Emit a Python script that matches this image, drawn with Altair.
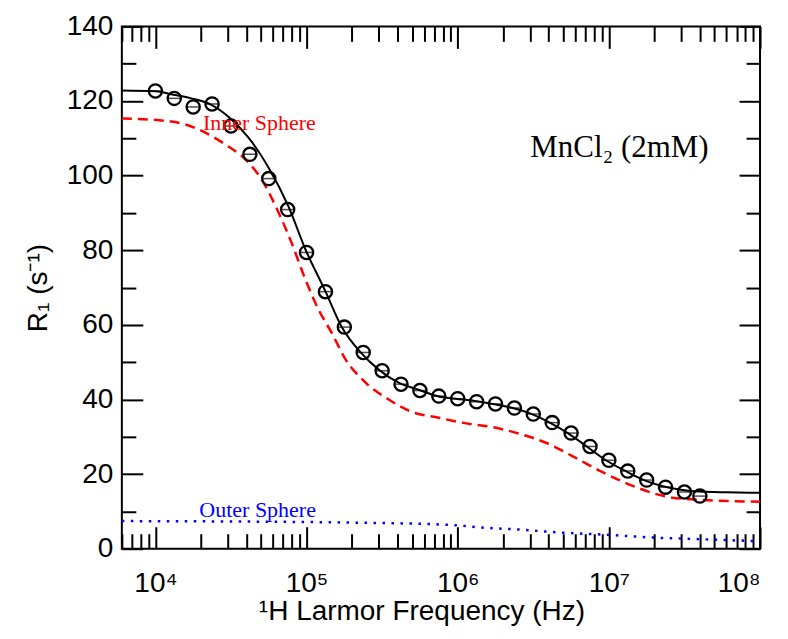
import altair as alt
import pandas as pd

# ---- measured data ----
freq_pts = [1.0e4, 1.3335e4, 1.7783e4, 2.3714e4, 3.1623e4, 4.2170e4, 5.6234e4, 7.4989e4,
            1.0e5, 1.3335e5, 1.7783e5, 2.3714e5, 3.1623e5, 4.2170e5, 5.6234e5, 7.4989e5,
            1.0e6, 1.3335e6, 1.7783e6, 2.3714e6, 3.1623e6, 4.2170e6, 5.6234e6, 7.4989e6,
            1.0e7, 1.3335e7, 1.7783e7, 2.3714e7, 3.1623e7, 4.0e7]
r1_pts = [122.7, 120.7, 118.4, 119.2, 113.3, 105.7, 99.2, 90.9,
          79.4, 68.9, 59.4, 52.6, 47.7, 44.1, 42.4, 40.9,
          40.2, 39.4, 38.8, 37.7, 36.1, 33.8, 31.0, 27.4,
          23.7, 20.8, 18.4, 16.5, 15.2, 14.1]

fit_freq = [6000, 1.0e4, 1.315e4, 1.73e4, 2.31e4, 3.04e4, 4.13e4, 5.6e4, 7.6e4, 9.84e4,
            1.336e5, 1.706e5, 2.28e5, 3.0e5, 4.066e5, 5.518e5, 7.485e5, 9.7e5, 1.297e6,
            1.707e6, 2.28e6, 3.04e6, 4.06e6, 5.35e6, 7.14e6, 9.55e6, 1.276e7, 1.706e7,
            2.245e7, 3.0e7, 3.95e7, 6.0e7, 1.0e8]
fit_r1 = [122.8, 122.6, 121.7, 120.7, 119.1, 115.8, 110.2, 102.2, 91.7, 80.2,
          68.9, 59.5, 52.6, 48.0, 44.5, 42.6, 40.8, 40.2, 39.6,
          38.8, 37.8, 36.2, 33.8, 31.0, 27.4, 23.7, 20.9, 18.4,
          16.8, 15.8, 15.3, 15.1, 15.0]

inner_freq = [6000, 9408, 1.58e4, 2.143e4, 2.91e4, 3.945e4, 5.037e4, 6.53e4, 7.96e4, 9.84e4,
              1.2e5, 1.465e5, 1.814e5, 2.46e5, 3.493e5, 4.955e5, 7.485e5, 1.062e6, 1.786e6,
              2.656e6, 3.828e6, 5.69e6, 8.59e6, 1.297e7, 2.38e7, 3.95e7, 1.0e8]
inner_r1 = [115.3, 115.0, 113.7, 111.5, 108.3, 104.3, 99.0, 90.1, 82.0, 72.1,
            64.1, 57.9, 50.7, 44.5, 40.0, 36.7, 35.1, 33.8, 32.4,
            30.6, 28.4, 24.9, 21.0, 17.6, 14.0, 13.1, 12.6]

outer_freq = [6000, 3.0e4, 2.0e5, 8.71e5, 1.53e6, 2.656e6, 4.46e6, 9.55e6, 1.93e7, 4.39e7, 1.0e8]
outer_r1 = [7.4, 7.3, 7.0, 6.4, 5.6, 5.1, 4.4, 3.75, 3.0, 2.5, 2.0]

x_major = [1e4, 1e5, 1e6, 1e7, 1e8]
x_minor = [m * d for d in [1e3, 1e4, 1e5, 1e6, 1e7] for m in range(2, 10) if m * d > 5999]
y_major = [0, 20, 40, 60, 80, 100, 120, 140]
y_minor = [10, 30, 50, 70, 90, 110, 130]

labels = [
    {"text": "Inner Sphere", "f": 2.065e4, "r": 112.2, "color": "#ff0000", "size": 22},
    {"text": "Outer Sphere", "f": 1.954e4, "r": 8.6, "color": "#0000ff", "size": 22},
    {"text": "MnCl\u2082 (2mM)", "f": 3.02e6, "r": 104.9, "color": "#000000", "size": 31},
]

# ---- frames ----
df_pts = pd.DataFrame({"f": freq_pts, "r": r1_pts})
df_fit = pd.DataFrame({"f": fit_freq, "r": fit_r1})
df_in = pd.DataFrame({"f": inner_freq, "r": inner_r1})
df_out = pd.DataFrame({"f": outer_freq, "r": outer_r1})

xs = alt.Scale(type="log", domain=[6000, 1e8], nice=False)
ys = alt.Scale(domain=[0, 140], nice=False, zero=False)

FONT = "Liberation Sans"


def ax(orient, values, size, labels=False, **kw):
    return alt.Axis(orient=orient, values=values, tickSize=size, offset=-size,
                    labels=labels, domain=False, grid=False, ticks=True,
                    tickColor="black", tickWidth=2, **kw)


sup = "datum.value == 10000 ? '10\u2074' : datum.value == 100000 ? '10\u2075' : datum.value == 1000000 ? '10\u2076' : datum.value == 10000000 ? '10\u2077' : '10\u2078'"

fit = alt.Chart(df_fit).mark_line(color="black", strokeWidth=2, interpolate="monotone", clip=True).encode(
    x=alt.X("f:Q", scale=xs, axis=ax("bottom", x_major, 22, labels=True, labelExpr=sup,
                                     labelPadding=21, labelFont=FONT, labelFontSize=28,
                                     labelColor="black", title="\u00b9H Larmor Frequency (Hz)",
                                     titleFont=FONT, titleFontSize=28, titleFontWeight="normal",
                                     titleColor="black", titlePadding=0, titleX=300,
                                     titleAlign="center")),
    y=alt.Y("r:Q", scale=ys, axis=ax("left", y_major, 21, labels=True, labelPadding=9,
                                     labelFont=FONT, labelFontSize=28, labelColor="black",
                                     title="R\u2081 (s\u207b\u00b9)", titleFont=FONT,
                                     titleFontSize=28, titleFontWeight="normal",
                                     titleColor="black", titlePadding=14)),
)

inner = alt.Chart(df_in).mark_line(color="#ff0000", strokeWidth=2.5, strokeDash=[10, 6],
                                   interpolate="monotone", clip=True).encode(
    x=alt.X("f:Q", scale=xs, axis=ax("top", x_major, 22, title=None)),
    y=alt.Y("r:Q", scale=ys, axis=ax("right", y_major, 21, title=None)),
)

outer = alt.Chart(df_out).mark_line(color="#0000ff", strokeWidth=2.5, strokeDash=[2.5, 6.5],
                                    interpolate="monotone", clip=True).encode(
    x=alt.X("f:Q", scale=xs, axis=ax("bottom", x_minor, 15, title=None)),
    y=alt.Y("r:Q", scale=ys, axis=ax("left", y_minor, 14, title=None)),
)

pts = alt.Chart(df_pts).mark_point(shape="circle", filled=False, size=175, strokeWidth=2.3,
                                   color="black", opacity=1).encode(
    x=alt.X("f:Q", scale=xs, axis=ax("top", x_minor, 15, title=None)),
    y=alt.Y("r:Q", scale=ys, axis=ax("right", y_minor, 14, title=None)),
)

errs = alt.Chart(df_pts).mark_tick(orient="horizontal", size=13, thickness=1.5,
                                   color="black").encode(
    x=alt.X("f:Q", scale=xs, axis=None),
    y=alt.Y("r:Q", scale=ys, axis=None),
)

texts = []
for lab in labels:
    texts.append(
        alt.Chart(pd.DataFrame([lab])).mark_text(
            align="left", baseline="alphabetic", font="Liberation Serif",
            fontSize=lab["size"], color=lab["color"]).encode(
            x=alt.X("f:Q", scale=xs, axis=None),
            y=alt.Y("r:Q", scale=ys, axis=None),
            text="text:N",
        )
    )

chart = alt.layer(fit, inner, outer, pts, errs, *texts).resolve_axis(
    x="independent", y="independent"
).properties(
    width=639, height=523,
    padding={"left": 114, "top": 18, "right": 20, "bottom": 82},
    autosize=alt.AutoSizeParams(type="none"),
    background="white",
).configure_view(stroke="black", strokeWidth=2)

chart.save("out.html", embed_options={"renderer": "svg", "actions": False})
